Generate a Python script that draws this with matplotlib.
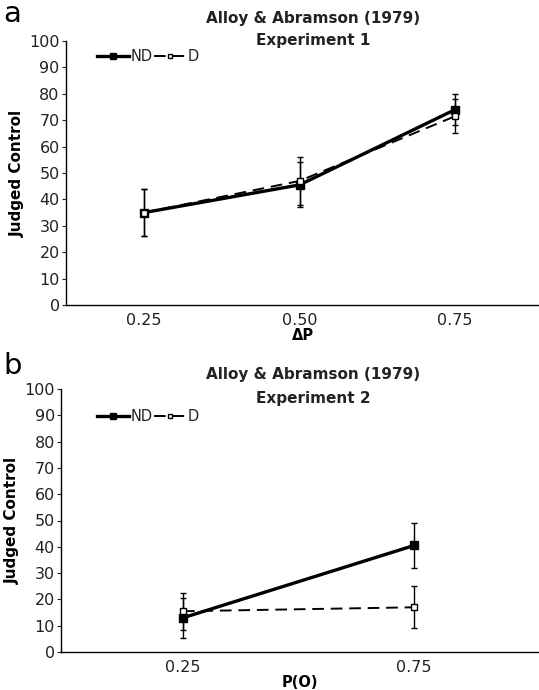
import matplotlib
matplotlib.use("Agg")
import matplotlib.pyplot as plt
from matplotlib.lines import Line2D

# Panel a data
a_cats = ["0.25", "0.50", "0.75"]
a_nd = [35, 45.5, 74]
a_nd_err = [9, 8.5, 6]
a_d = [35, 47, 71.5]
a_d_err = [9, 9, 6.5]

# Panel b data
b_cats = ["0.25", "0.75"]
b_nd = [13, 40.5]
b_nd_err = [7.5, 8.5]
b_d = [15.5, 17]
b_d_err = [7, 8]

yticks = list(range(0, 101, 10))

plt.rcParams['font.family'] = ['DejaVu Sans']

fig = plt.figure(figsize=(5.39, 6.9), dpi=100)

ND_STYLE = dict(color='black', lw=2.4, marker='s', mfc='black', mec='black')
D_STYLE = dict(color='black', lw=1.4, ls=(0, (6, 3.5)), marker='s', mfc='white', mec='black', mew=1.0)
TXT = '#222222'


def panel(rect, cats, nd, nderr, d, derr, xlim, title, title_y, xlabel, letter, letter_y, leg_xy):
    ax = fig.add_axes(rect)
    x = list(range(1, len(cats) + 1))
    ax.errorbar(x, nd, yerr=nderr, ms=5.5, ecolor='black', elinewidth=1.0, capsize=2.5,
                capthick=1.0, zorder=3, **ND_STYLE)
    ax.errorbar(x, d, yerr=derr, ms=4.8, ecolor='black', elinewidth=1.0,
                capsize=2.5, capthick=1.0, zorder=4, **D_STYLE)
    ax.set_xlim(*xlim)
    ax.set_ylim(0, 100)
    ax.set_yticks(yticks)
    ax.set_xticks(x)
    ax.set_xticklabels(cats, fontsize=11.5, color=TXT)
    ax.tick_params(axis='x', length=0, pad=6)
    ax.tick_params(axis='y', length=3, labelsize=11.5, colors=TXT, pad=1.5)
    for s in ['top', 'right']:
        ax.spines[s].set_visible(False)
    ax.spines['left'].set_linewidth(1.0)
    ax.spines['bottom'].set_linewidth(1.0)
    ax.set_ylabel('Judged Control', fontsize=11, fontweight='bold', labelpad=3)
    ax.set_xlabel(xlabel, fontsize=10.5, fontweight='bold', labelpad=0)
    fig.text(313/539, title_y[0], title[0], fontsize=11, fontweight='bold', ha='center', va='center',
             color=TXT)
    fig.text(313/539, title_y[1], title[1], fontsize=11, fontweight='bold', ha='center', va='center',
             color=TXT)
    fig.text(0.006, letter_y, letter, fontsize=21, va='center', ha='left')
    handles = [Line2D([], [], ms=4, **ND_STYLE), Line2D([], [], ms=3.5, **D_STYLE)]
    ax.legend(handles, ['ND', 'D'], loc='upper left', bbox_to_anchor=leg_xy,
              bbox_transform=fig.transFigure, ncol=2, frameon=False, fontsize=10.5,
              handlelength=2.2, handletextpad=0.1, columnspacing=0.1, borderpad=0,
              borderaxespad=0, labelcolor=TXT)
    return ax


panel([66/539, 1 - 305/690, 1 - 66/539, (305 - 41)/690], a_cats, a_nd, a_nd_err, a_d, a_d_err,
      (0.498, 3.54), ("Alloy & Abramson (1979)", "Experiment 1"), (1 - 19/690, 1 - 41/690),
      "\u0394P", "a", 1 - 14/690, (97/539, 1 - 49/690))

panel([61/539, 1 - 652/690, 1 - 61/539, (652 - 389)/690], b_cats, b_nd, b_nd_err, b_d, b_d_err,
      (0.472, 2.541), ("Alloy & Abramson (1979)", "Experiment 2"), (1 - 374/690, 1 - 398/690),
      "P(O)", "b", 1 - 366/690, (97/539, 1 - 409/690))

fig.savefig("out.png", dpi=100)
